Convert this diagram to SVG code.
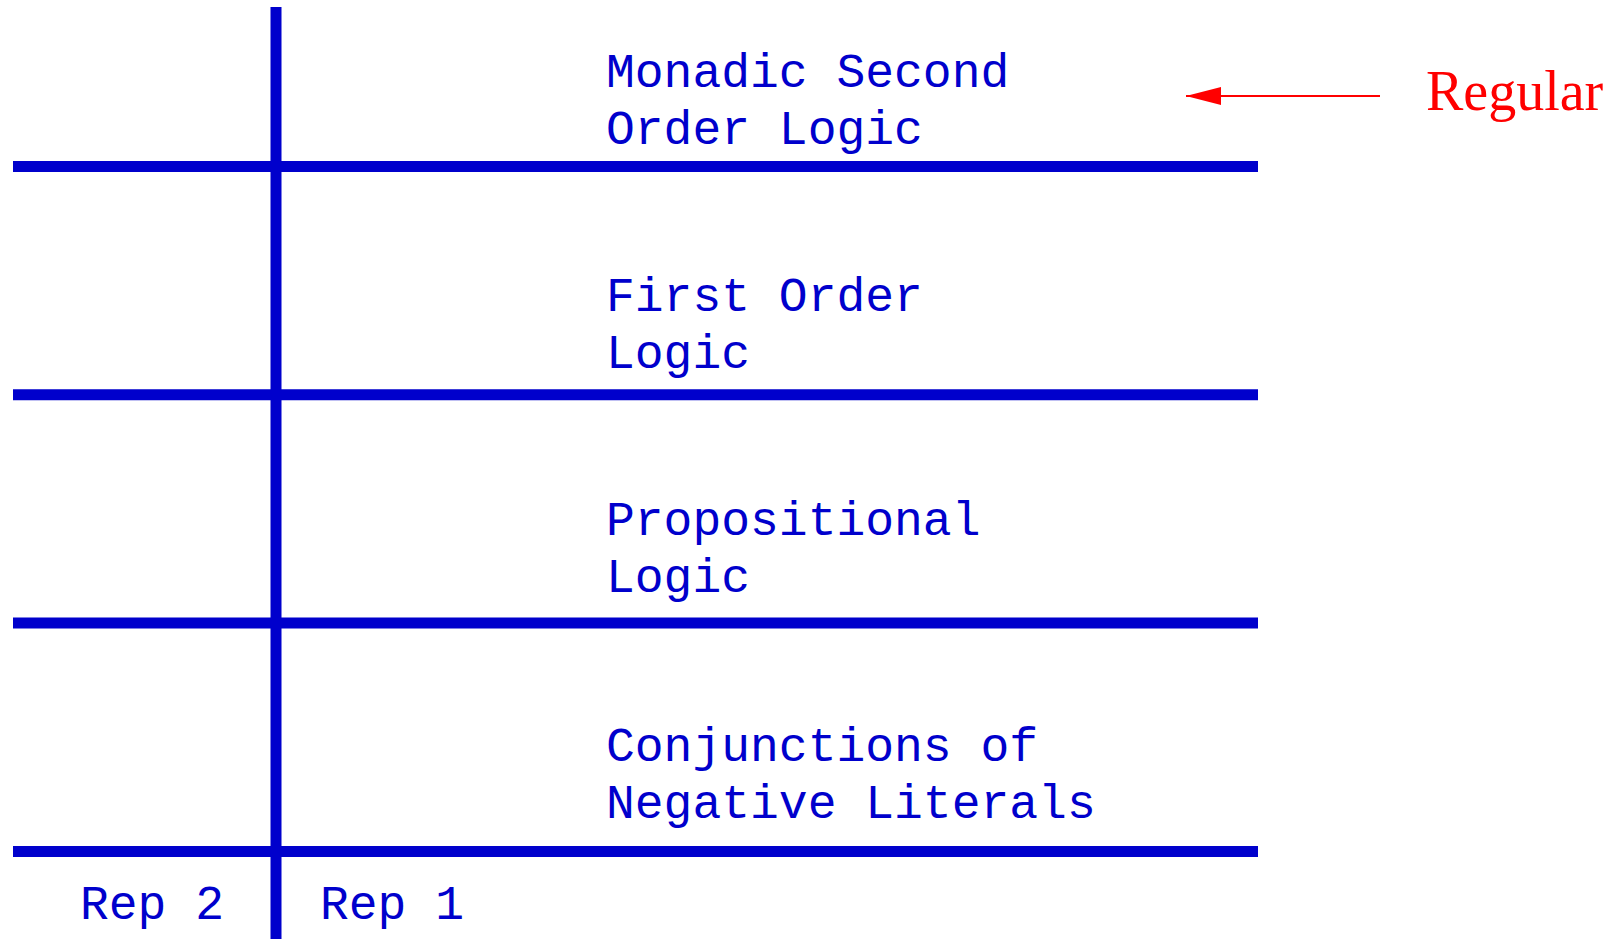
<svg xmlns="http://www.w3.org/2000/svg" width="1618" height="939" viewBox="0 0 1618 939">
<style>
.ln{stroke:#0000cc;stroke-width:11;fill:none}
.t{font-family:"Liberation Mono","Courier New",monospace;font-size:48px;fill:#0000cc}
.r{font-family:"Liberation Serif","Times New Roman",serif;font-size:56px;fill:#ff0000}
</style>
<defs>
<marker id="ah" markerUnits="userSpaceOnUse" markerWidth="36" markerHeight="18" refX="35" refY="9" orient="auto">
<path d="M0,0 L35,9 L0,18 Z" fill="#ff0000"/>
</marker>
</defs>
<rect width="1618" height="939" fill="#ffffff"/>
<g id="grid">
<line class="ln" x1="276" y1="7" x2="276" y2="939"/>
<line class="ln" x1="13" y1="166.5" x2="1258" y2="166.5"/>
<line class="ln" x1="13" y1="394.8" x2="1258" y2="394.8"/>
<line class="ln" x1="13" y1="623" x2="1258" y2="623"/>
<line class="ln" x1="13" y1="851.5" x2="1258" y2="851.5"/>
</g>
<g id="msol"><text class="t" x="606" y="87">Monadic Second</text><text class="t" x="606" y="144">Order Logic</text></g>
<g id="fol"><text class="t" x="606" y="311">First Order</text><text class="t" x="606" y="368">Logic</text></g>
<g id="pl"><text class="t" x="606" y="535">Propositional</text><text class="t" x="606" y="592">Logic</text></g>
<g id="cnl"><text class="t" x="606" y="761">Conjunctions of</text><text class="t" x="606" y="818">Negative Literals</text></g>
<g id="rep2"><text class="t" x="80" y="919">Rep 2</text></g>
<g id="rep1"><text class="t" x="320" y="919">Rep 1</text></g>
<g id="regular"><text class="r" x="1426" y="110">Regular</text></g>
<g id="connectors">
<line x1="1380" y1="96" x2="1186" y2="96" stroke="#ff0000" stroke-width="2" marker-end="url(#ah)"/>
</g>
</svg>
